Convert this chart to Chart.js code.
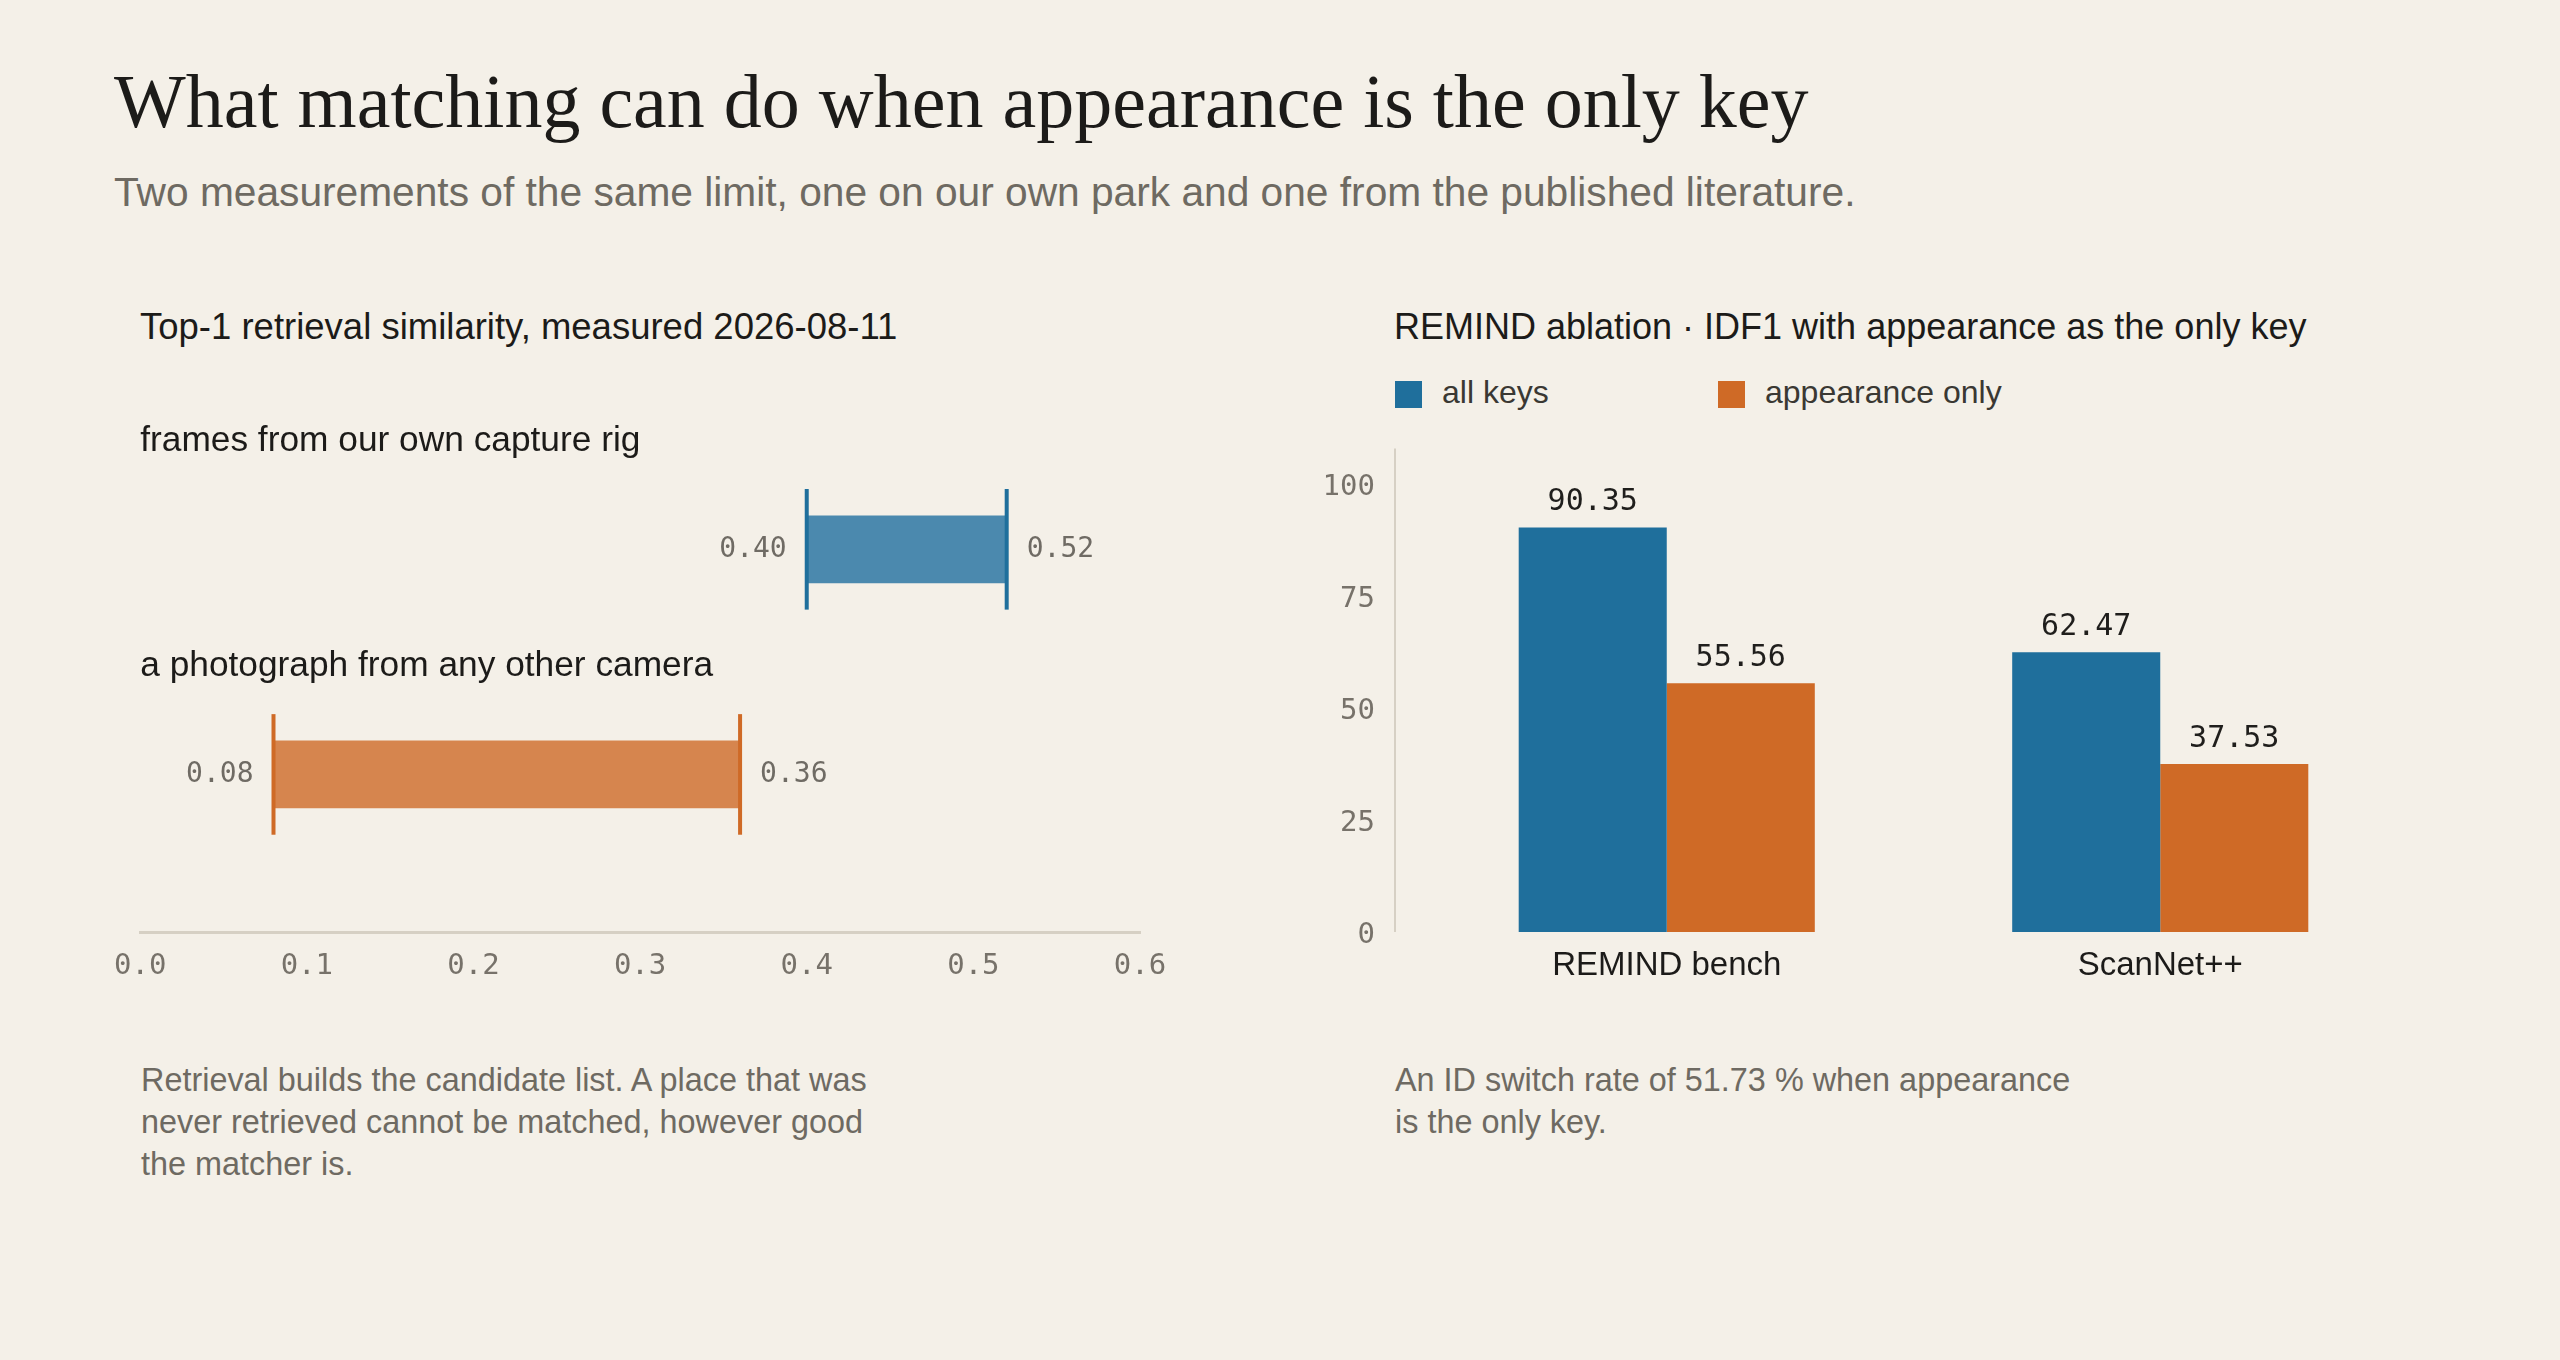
<!DOCTYPE html>
<html>
<head>
<meta charset="utf-8">
<script src="https://cdn.jsdelivr.net/npm/chart.js@4.4.1/dist/chart.umd.min.js"></script>
<style>
html,body{margin:0;padding:0;background:#f4f0e8;}
body{width:2560px;height:1360px;position:relative;overflow:hidden;font-family:"Liberation Sans",Arial,sans-serif;}
.t{position:absolute;white-space:nowrap;line-height:1;}
#title{left:114px;top:63px;font-family:"Liberation Serif",serif;font-size:76px;color:#1c1b19;}
#subtitle{left:114px;top:172px;font-size:40.7px;color:#6e6a62;}
.ptitle{top:309px;color:#1c1b19;}
.note{position:absolute;top:1059px;font-size:32.4px;line-height:42px;color:#6e6a62;white-space:nowrap;}
#legend{position:absolute;left:1395px;top:376px;height:34px;}
.li{position:absolute;top:0;height:34px;white-space:nowrap;}
.sw{position:absolute;left:0;top:5px;width:27px;height:27px;}
.lt{position:absolute;left:47px;top:0;font-size:32px;line-height:32px;color:#3a3833;}
canvas{position:absolute;}
</style>
</head>
<body>
<div id="title" class="t">What matching can do when appearance is the only key</div>
<div id="subtitle" class="t">Two measurements of the same limit, one on our own park and one from the published literature.</div>
<div class="t ptitle" style="left:140px;font-size:36.5px;">Top-1 retrieval similarity, measured 2026-08-11</div>
<div class="t ptitle" style="left:1394px;font-size:36px;">REMIND ablation · IDF1 with appearance as the only key</div>
<div id="legend"></div>
<canvas id="left" width="1150" height="620" style="left:100px;top:380px;width:1150px;height:620px;"></canvas>
<canvas id="right" width="1200" height="614" style="left:1300px;top:386px;width:1200px;height:614px;"></canvas>
<div class="note" style="left:141px;">Retrieval builds the candidate list. A place that was<br>never retrieved cannot be matched, however good<br>the matcher is.</div>
<div class="note" style="left:1395px;">An ID switch rate of 51.73 % when appearance<br>is the only key.</div>
<script>
// ---- data: left panel (range bars) ----
const rangeCategories = ['frames from our own capture rig', 'a photograph from any other camera'];
const rangeLows = [0.40, 0.08];
const rangeHighs = [0.52, 0.36];
const rangeTicks = [0.0, 0.1, 0.2, 0.3, 0.4, 0.5, 0.6];

// ---- data: right panel (grouped bars) ----
const groups = ['REMIND bench', 'ScanNet++'];
const seriesNames = ['all keys', 'appearance only'];
const allKeys = [90.35, 62.47];
const appearanceOnly = [55.56, 37.53];
const idfTicks = [0, 25, 50, 75, 100];

// ---- styles ----
const BLUE = '#1f6f9c', ORANGE = '#cf6a26';
const rangeFill = ['#4b89ae', '#d6854e'];
const rangeCap = [BLUE, ORANGE];
const MONO = '"DejaVu Sans Mono", monospace';
const SANS = '"Liberation Sans", Arial, sans-serif';

// legend (HTML)
const legend = document.getElementById('legend');
[BLUE, ORANGE].forEach((c, i) => {
  const d = document.createElement('div');
  d.className = 'li';
  d.style.left = (i * 323) + 'px';
  d.innerHTML = '<div class="sw" style="background:' + c + '"></div><div class="lt"></div>';
  d.querySelector('.lt').textContent = seriesNames[i];
  legend.appendChild(d);
});

const rangeDecor = {
  id: 'rangeDecor',
  afterDatasetsDraw(chart) {
    const {ctx, chartArea} = chart;
    const meta = chart.getDatasetMeta(0);
    meta.data.forEach((el, i) => {
      const p = el.getProps(['x', 'y', 'base', 'height'], true);
      const lo = Math.min(p.x, p.base), hi = Math.max(p.x, p.base);
      const half = p.height * 0.9;
      ctx.save();
      ctx.strokeStyle = rangeCap[i];
      ctx.lineWidth = 4;
      [lo, hi].forEach(px => {
        ctx.beginPath(); ctx.moveTo(px, p.y - half); ctx.lineTo(px, p.y + half); ctx.stroke();
      });
      ctx.font = '28px ' + MONO;
      ctx.fillStyle = '#6f6b64';
      ctx.textBaseline = 'middle';
      ctx.textAlign = 'right';
      ctx.fillText(rangeLows[i].toFixed(2), lo - 20, p.y);
      ctx.textAlign = 'left';
      ctx.fillText(rangeHighs[i].toFixed(2), hi + 20, p.y);
      ctx.font = '35.3px ' + SANS;
      ctx.fillStyle = '#1c1b19';
      ctx.textBaseline = 'alphabetic';
      ctx.fillText(rangeCategories[i], chartArea.left, p.y - 98);
      ctx.restore();
    });
  }
};

new Chart(document.getElementById('left'), {
  type: 'bar',
  data: {
    datasets: [{
      data: rangeCategories.map((c, i) => ({x: [rangeLows[i], rangeHighs[i]], y: i})),
      backgroundColor: rangeFill,
      borderWidth: 0,
      barThickness: 67
    }]
  },
  options: {
    indexAxis: 'y',
    responsive: false,
    animation: false,
    devicePixelRatio: 1,
    layout: {padding: {left: 36, right: 110, top: 23, bottom: 0}},
    plugins: {legend: {display: false}, tooltip: {enabled: false}},
    scales: {
      x: {
        type: 'linear', min: 0, max: 0.6,
        grid: {display: false, drawTicks: false},
        border: {display: true, color: '#d6d0c4', width: 3},
        ticks: {font: {family: 'DejaVu Sans Mono', size: 29, lineHeight: 1.4}, color: '#77726a', padding: 14,
                callback: v => Number(v).toFixed(1)},
        afterBuildTicks(s) { s.ticks = rangeTicks.map(v => ({value: v})); },
        afterFit(s) { s.height = 68; }
      },
      y: {type: 'linear', reverse: true, offset: false, min: -0.65, max: 1.7, display: false}
    }
  },
  plugins: [rangeDecor]
});

const barDecor = {
  id: 'barDecor',
  beforeDatasetsDraw(chart) {
    const {ctx, chartArea} = chart;
    ctx.save();
    ctx.strokeStyle = '#d6d0c4';
    ctx.lineWidth = 2;
    ctx.beginPath();
    ctx.moveTo(chartArea.left - 25, chartArea.top);
    ctx.lineTo(chartArea.left - 25, chartArea.bottom);
    ctx.stroke();
    ctx.restore();
  },
  afterDatasetsDraw(chart) {
    const {ctx} = chart;
    ctx.save();
    ctx.font = '30px ' + MONO;
    ctx.fillStyle = '#1f1e1c';
    ctx.textAlign = 'center';
    ctx.textBaseline = 'middle';
    chart.data.datasets.forEach((ds, di) => {
      chart.getDatasetMeta(di).data.forEach((el, i) => {
        ctx.fillText(ds.data[i].toFixed(2), el.x, el.y - 25);
      });
    });
    ctx.restore();
  }
};

new Chart(document.getElementById('right'), {
  type: 'bar',
  data: {
    labels: groups,
    datasets: [
      {label: seriesNames[0], data: allKeys, backgroundColor: BLUE},
      {label: seriesNames[1], data: appearanceOnly, backgroundColor: ORANGE}
    ]
  },
  options: {
    responsive: false,
    animation: false,
    devicePixelRatio: 1,
    layout: {padding: {left: 0, right: 93, top: 0, bottom: 0}},
    plugins: {legend: {display: false}, tooltip: {enabled: false}},
    datasets: {bar: {barPercentage: 1, categoryPercentage: 0.6, borderWidth: 0}},
    scales: {
      x: {
        grid: {display: false, drawTicks: false},
        border: {display: false},
        ticks: {font: {family: 'Liberation Sans', size: 33}, color: '#1c1b19', padding: 14},
        afterFit(s) { s.height = 68; }
      },
      y: {
        min: 0, max: 108,
        grid: {display: false, drawTicks: false},
        border: {display: false},
        ticks: {font: {family: 'DejaVu Sans Mono', size: 29}, color: '#77726a', padding: 45, labelOffset: 3},
        afterBuildTicks(s) { s.ticks = idfTicks.map(v => ({value: v})); },
        afterFit(s) { s.width = 120; }
      }
    }
  },
  plugins: [barDecor]
});
</script>
</body>
</html>
